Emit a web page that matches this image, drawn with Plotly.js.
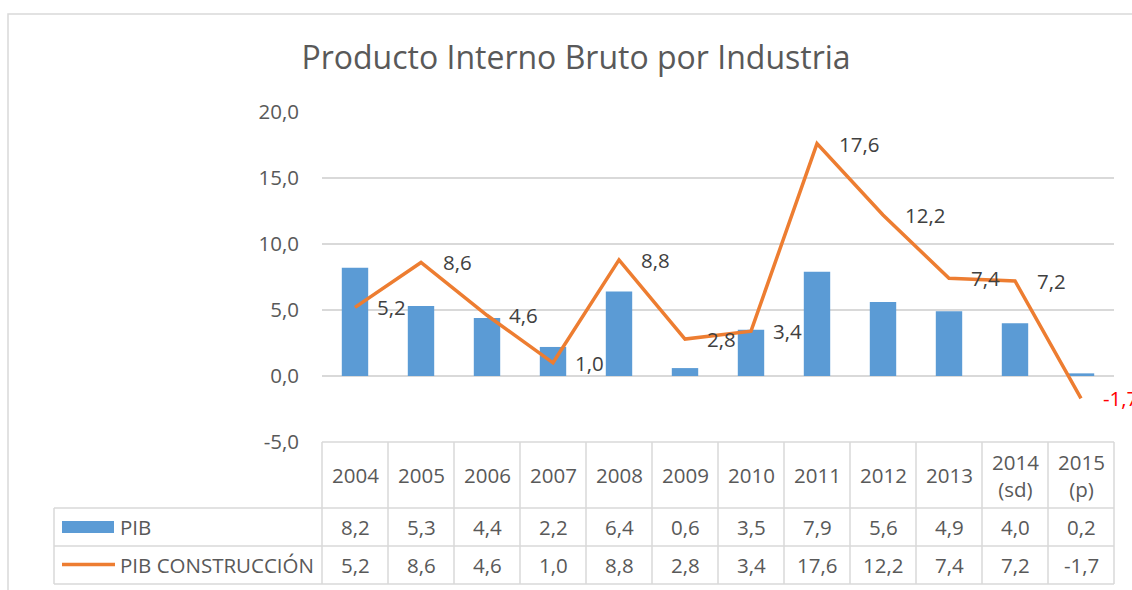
<!DOCTYPE html>
<html>
<head>
<meta charset="utf-8">
<script src="https://cdn.plot.ly/plotly-3.0.1.min.js"></script>
<style>html,body{margin:0;padding:0;background:#fff;}#chart{width:1132px;height:590px;}</style>
</head>
<body>
<div id="chart"></div>
<script>
// ---- data ----
var categories = ['2004','2005','2006','2007','2008','2009','2010','2011','2012','2013','2014 (sd)','2015 (p)'];
var headerLabels = ['2004','2005','2006','2007','2008','2009','2010','2011','2012','2013','2014<br>(sd)','2015<br>(p)'];
var pib = [8.2, 5.3, 4.4, 2.2, 6.4, 0.6, 3.5, 7.9, 5.6, 4.9, 4.0, 0.2];
var pibConstruccion = [5.2, 8.6, 4.6, 1.0, 8.8, 2.8, 3.4, 17.6, 12.2, 7.4, 7.2, -1.7];
var seriesNames = ['PIB', 'PIB CONSTRUCCIÓN'];
var yTicks = [-5, 0, 5, 10, 15, 20];

// ---- geometry helpers (pixel -> paper) ----
var W = 1132, H = 590, L = 322, R = 18, T = 112, B = 148;
var pw = W - L - R, ph = H - T - B;
function px(p) { return (p - L) / pw; }
function py(p) { return (H - B - p) / ph; }
function fmt(v) { return v.toFixed(1).replace('.', ','); }

var FONT = 'Open Sans, sans-serif';
var TXT = '#595959';
var GRID = '#d9d9d9';
var BLUE = '#5B9BD5';
var ORANGE = '#ED7D31';
var FS = 20.5;

var traces = [
  { type: 'bar', x: categories, y: pib, name: seriesNames[0], width: 0.4,
    marker: { color: BLUE }, hoverinfo: 'skip' },
  { type: 'scatter', mode: 'lines', x: categories, y: pibConstruccion, name: seriesNames[1],
    line: { color: ORANGE, width: 3.5 }, hoverinfo: 'skip' }
];

var shapes = [];
var annotations = [];

// outer chart border
shapes.push({ type: 'rect', xref: 'paper', yref: 'paper', x0: px(8), x1: px(1145), y0: py(600), y1: py(14),
  line: { color: GRID, width: 1.5 }, fillcolor: 'rgba(0,0,0,0)', layer: 'below' });

// table rows (pixel rows)
var rowTop = 442, rowH1 = 508, rowH2 = 546, rowBot = 584;
shapes.push({ type: 'line', xref: 'paper', yref: 'paper', x0: 0, x1: 1, y0: py(rowTop), y1: py(rowTop), line: { color: GRID, width: 1.5 } });
[rowH1, rowH2, rowBot].forEach(function (p) {
  shapes.push({ type: 'line', xref: 'paper', yref: 'paper', x0: px(54), x1: 1, y0: py(p), y1: py(p), line: { color: GRID, width: 1.5 } });
});
shapes.push({ type: 'line', xref: 'paper', yref: 'paper', x0: px(54), x1: px(54), y0: py(rowH1), y1: py(rowBot), line: { color: GRID, width: 1.5 } });
shapes.push({ type: 'line', xref: 'paper', yref: 'paper', x0: 0, x1: 0, y0: py(rowTop), y1: py(rowBot), line: { color: GRID, width: 1.5 } });
shapes.push({ type: 'line', xref: 'paper', yref: 'paper', x0: 1, x1: 1, y0: py(rowTop), y1: py(rowBot), line: { color: GRID, width: 1.5 } });
for (var i = 1; i < categories.length; i++) {
  shapes.push({ type: 'line', xref: 'x', yref: 'paper', x0: i - 0.5, x1: i - 0.5, y0: py(rowTop), y1: py(rowBot), line: { color: GRID, width: 1.5 } });
}

// legend keys in table
shapes.push({ type: 'rect', xref: 'paper', yref: 'paper', x0: px(62), x1: px(114), y0: py(533), y1: py(521),
  fillcolor: BLUE, line: { width: 0 } });
shapes.push({ type: 'line', xref: 'paper', yref: 'paper', x0: px(62), x1: px(115), y0: py(564.5), y1: py(564.5),
  line: { color: ORANGE, width: 3.5 } });
annotations.push({ xref: 'paper', yref: 'paper', x: px(118), y: py(527), xanchor: 'left', yanchor: 'middle', showarrow: false,
  text: seriesNames[0], font: { family: FONT, size: FS, color: TXT } });
annotations.push({ xref: 'paper', yref: 'paper', x: px(118), y: py(565), xanchor: 'left', yanchor: 'middle', showarrow: false,
  text: seriesNames[1], font: { family: FONT, size: FS, color: TXT } });

// table cells (x given as category index on the category axis)
categories.forEach(function (c, i) {
  annotations.push({ xref: 'x', yref: 'paper', x: i, y: py(475), xanchor: 'center', yanchor: 'middle', showarrow: false,
    text: headerLabels[i], font: { family: FONT, size: FS, color: TXT } });
  annotations.push({ xref: 'x', yref: 'paper', x: i, y: py(527), xanchor: 'center', yanchor: 'middle', showarrow: false,
    text: fmt(pib[i]), font: { family: FONT, size: FS, color: TXT } });
  annotations.push({ xref: 'x', yref: 'paper', x: i, y: py(565), xanchor: 'center', yanchor: 'middle', showarrow: false,
    text: fmt(pibConstruccion[i]), font: { family: FONT, size: FS, color: TXT } });
  // line data labels
  annotations.push({ xref: 'x', yref: 'y', x: i, y: pibConstruccion[i], xanchor: 'left', yanchor: 'middle', xshift: 20,
    showarrow: false, text: fmt(pibConstruccion[i]),
    font: { family: FONT, size: FS, color: pibConstruccion[i] < 0 ? '#FF0000' : '#404040' } });
});

var layout = {
  width: W, height: H,
  margin: { l: L, r: R, t: T, b: B, pad: 0 },
  paper_bgcolor: '#ffffff', plot_bgcolor: '#ffffff',
  separators: ',.',
  showlegend: false,
  font: { family: FONT, color: TXT },
  title: { text: 'Producto Interno Bruto por Industria', xref: 'container', yref: 'container',
    x: 576 / W, xanchor: 'center', y: 1 - 58 / H, yanchor: 'middle',
    font: { family: FONT, size: 32, color: TXT } },
  xaxis: { type: 'category', range: [-0.5, 11.5], showticklabels: false, showgrid: false,
    zeroline: false, showline: false, ticks: '', fixedrange: true },
  yaxis: { range: [-5, 20], tickvals: yTicks, ticktext: yTicks.map(fmt), showgrid: true,
    gridcolor: GRID, gridwidth: 1.5, zeroline: false, showline: false, ticks: '',
    ticklabelstandoff: 22, tickfont: { family: FONT, size: FS, color: TXT }, fixedrange: true },
  shapes: shapes,
  annotations: annotations
};

Plotly.newPlot('chart', traces, layout, { staticPlot: true, displayModeBar: false });
</script>
</body>
</html>
